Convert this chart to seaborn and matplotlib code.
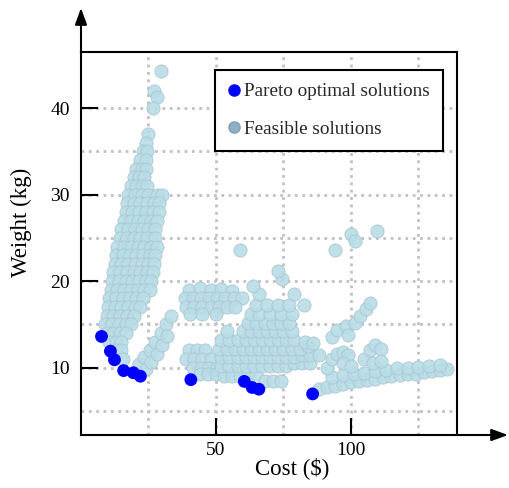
import pandas as pd
import numpy as np
import matplotlib
matplotlib.use('Agg')
import matplotlib.pyplot as plt
import seaborn as sns
from matplotlib.lines import Line2D
from matplotlib.ticker import FixedLocator

#####################################################################
# Data (cost in $, weight in kg)
pareto_cost = [7.6, 10.9, 12.4, 15.8, 19.4, 22.0, 40.7, 60.5, 63.4, 65.9, 85.8]
pareto_weight = [13.6, 11.9, 10.9, 9.65, 9.4, 9.0, 8.6, 8.4, 7.7, 7.5, 6.95]

left_band = [
    (29.5, 44.3), (27.2, 42.0), (28.3, 41.3), (26.5, 40.0), (24.8, 37.0), (24.0, 36.0),
    (23.0, 35.0), (24.5, 35.0), (22.0, 34.0), (24.0, 34.0),
    (20.5, 33.0), (22.5, 33.0), (24.0, 33.0), (19.5, 32.0), (21.5, 32.0), (23.5, 32.0),
    (18.5, 31.0), (20.5, 31.0), (22.5, 31.0), (24.5, 31.0),
    (17.5, 30.0), (20.0, 30.0), (22.5, 30.0), (25.0, 30.0), (28.0, 30.0), (30.0, 30.0),
    (17.0, 29.0), (19.5, 29.0), (22.0, 29.0), (24.5, 29.0), (27.0, 29.0), (29.0, 29.0),
    (16.5, 28.0), (19.0, 28.0), (21.5, 28.0), (24.0, 28.0), (26.5, 28.0), (29.0, 28.0),
    (16.0, 27.0), (18.5, 27.0), (21.0, 27.0), (23.5, 27.0), (26.0, 27.0), (28.0, 27.0),
    (15.0, 26.0), (17.5, 26.0), (20.0, 26.0), (22.5, 26.0), (25.0, 26.0), (27.5, 26.0),
    (14.5, 25.0), (17.0, 25.0), (19.5, 25.0), (22.0, 25.0), (24.5, 25.0), (27.5, 25.0),
    (13.5, 24.0), (16.0, 24.0), (18.5, 24.0), (21.0, 24.0), (23.5, 24.0), (26.0, 24.0), (28.0, 24.0),
    (13.0, 23.0), (15.5, 23.0), (18.0, 23.0), (20.5, 23.0), (23.0, 23.0), (25.5, 23.0), (27.5, 23.0),
    (12.5, 22.0), (15.0, 22.0), (17.5, 22.0), (20.0, 22.0), (22.5, 22.0), (25.0, 22.0), (27.0, 22.0),
    (12.0, 21.0), (14.5, 21.0), (17.0, 21.0), (19.5, 21.0), (22.0, 21.0), (24.5, 21.0), (26.5, 21.0),
    (11.5, 20.0), (14.0, 20.0), (16.5, 20.0), (19.0, 20.0), (21.5, 20.0), (24.0, 20.0), (26.0, 20.0),
    (11.0, 19.0), (13.5, 19.0), (16.0, 19.0), (18.5, 19.0), (21.0, 19.0), (23.5, 19.0), (25.5, 19.0),
    (10.5, 18.0), (13.0, 18.0), (15.5, 18.0), (18.0, 18.0), (20.5, 18.0), (23.0, 18.0),
    (10.0, 17.0), (12.5, 17.0), (15.0, 17.0), (17.5, 17.0), (20.0, 17.0), (22.0, 17.0),
    (9.5, 16.0), (12.0, 16.0), (14.5, 16.0), (17.0, 16.0), (19.5, 16.0),
    (9.0, 15.0), (11.5, 15.0), (14.0, 15.0), (16.5, 15.0), (18.5, 15.0),
    (9.5, 14.0), (12.0, 14.0), (14.5, 14.0), (16.5, 14.0),
    (10.5, 13.0), (13.0, 13.0), (15.0, 13.0), (13.0, 12.0), (15.0, 12.0), (15.5, 11.0),
]

arm = [
    (21.5, 10.4), (23.5, 11.2), (25.5, 12.0), (27.5, 13.0), (29.5, 14.0), (31.5, 15.0), (33.5, 16.0),
    (24.0, 9.8), (26.0, 10.6), (28.0, 11.6), (30.0, 12.6), (32.0, 13.7),
]

middle = [
    (40.0, 19.0), (44.0, 19.2), (48.0, 19.0), (52.0, 19.1), (56.0, 18.9),
    (38.5, 18.0), (41.5, 18.0), (44.5, 18.0), (47.5, 18.0), (50.5, 18.0), (53.5, 18.0), (56.5, 18.0), (59.5, 18.0),
    (39.0, 17.0), (42.0, 17.0), (45.0, 17.0), (48.0, 17.0), (51.0, 17.0), (54.0, 17.0), (57.0, 17.0),
    (40.5, 16.2), (45.0, 16.2), (50.0, 16.2),
    (40.0, 12.0), (43.0, 12.0), (46.0, 12.0),
    (39.0, 11.0), (42.0, 11.0), (45.0, 11.0), (48.0, 11.0),
    (41.5, 10.0), (44.5, 10.0), (47.5, 10.0), (50.5, 10.0),
    (44.0, 9.2), (47.0, 9.2), (50.0, 9.2),
    (53.0, 9.0), (56.0, 9.0), (59.0, 9.0), (62.0, 9.3), (65.0, 9.3), (68.0, 8.5), (71.0, 8.5), (74.0, 8.5),
    (52.0, 10.2), (55.0, 10.2), (58.0, 10.2), (61.0, 10.2), (64.0, 10.2), (67.0, 10.2), (70.0, 10.2),
    (73.0, 10.2), (76.0, 10.2), (79.0, 10.5), (82.0, 10.5), (85.0, 10.5),
    (52.0, 11.2), (55.0, 11.2), (58.0, 11.2), (61.0, 11.2), (64.0, 11.2), (67.0, 11.2), (70.0, 11.2),
    (73.0, 11.2), (76.0, 11.2), (79.0, 11.2), (82.0, 11.5), (85.0, 11.5), (88.0, 11.5),
    (51.0, 12.2), (54.0, 12.2), (57.0, 12.2), (60.0, 12.2), (63.0, 12.2), (66.0, 12.2), (69.0, 12.2),
    (72.0, 12.2), (75.0, 12.2), (78.0, 12.2), (81.0, 12.2), (84.0, 12.5),
    (52.0, 13.2), (55.0, 13.2), (58.0, 13.2), (61.0, 13.2), (64.0, 13.2), (67.0, 13.2), (70.0, 13.2),
    (73.0, 13.2), (76.0, 13.2), (79.0, 13.2), (83.0, 13.0), (86.0, 12.8),
    (54.0, 14.2), (60.0, 14.2), (63.0, 14.2), (66.0, 14.2), (69.0, 14.2), (72.0, 14.2), (75.0, 14.2), (78.0, 14.2),
    (62.0, 15.2), (65.0, 15.2), (68.0, 15.2), (71.0, 15.2), (74.0, 15.2), (77.0, 15.2),
    (63.0, 16.2), (66.0, 16.2), (70.0, 16.2), (74.0, 16.2), (78.0, 16.2),
    (65.0, 17.2), (69.0, 17.2), (73.0, 17.2), (77.0, 17.2), (82.5, 17.2),
    (66.0, 18.5), (79.0, 18.5), (63.8, 19.4), (74.3, 20.2), (73.0, 21.2), (59.0, 23.6),
]

right = [
    (88.0, 7.5), (91.0, 7.7), (94.0, 7.9), (97.0, 8.1), (100.0, 8.3), (103.0, 8.5), (106.0, 8.6),
    (109.0, 8.7), (112.0, 8.9), (115.0, 9.0), (118.0, 9.1), (121.0, 9.2), (124.0, 9.3), (127.0, 9.5),
    (130.0, 9.6), (133.0, 9.7), (135.5, 9.8),
    (93.0, 8.9), (97.0, 9.1), (101.0, 9.3), (105.0, 9.4), (109.0, 9.6), (113.0, 9.7), (117.0, 9.9),
    (121.0, 10.0), (125.0, 10.1), (129.0, 10.2), (133.0, 10.3),
    (91.0, 10.0), (93.0, 11.0), (95.0, 11.6), (97.0, 11.8), (99.0, 11.4), (97.0, 10.5), (100.0, 10.2),
    (105.0, 11.0), (107.0, 12.0), (109.0, 12.6), (111.0, 12.2), (108.0, 10.5), (111.0, 10.8),
    (93.0, 13.5), (95.0, 14.3), (98.0, 14.8), (99.0, 13.8),
    (101.5, 15.2), (103.5, 16.0), (105.5, 16.8), (107.0, 17.5),
    (94.0, 23.6), (100.2, 25.4), (101.5, 24.6), (109.5, 25.8),
]

legend_labels = ['Pareto optimal solutions', 'Feasible solutions']

#####################################################################
feasible = pd.DataFrame(left_band + arm + middle + right, columns=['Cost', 'Weight'])
pareto = pd.DataFrame({'Cost': pareto_cost, 'Weight': pareto_weight})

sns.set_theme(style="white")
plt.rcParams['font.family'] = ['Liberation Serif', 'DejaVu Serif']

W, H = 510, 488
fig = plt.figure(figsize=(W / 100, H / 100), dpi=100)
ax = fig.add_axes([81 / W, 1 - 435 / H, 376 / W, 383 / H])

sns.scatterplot(data=feasible, x='Cost', y='Weight', ax=ax, s=90, color='#b8dde6',
                edgecolor='#a9c3cf', linewidth=0.6, alpha=0.9, zorder=2, legend=False)
sns.scatterplot(data=pareto, x='Cost', y='Weight', ax=ax, s=85, color='#0000ff',
                edgecolor='none', zorder=3, legend=False)

ax.set_xlim(0, 139.3)
ax.set_ylim(2.2, 46.5)
ax.xaxis.set_major_locator(FixedLocator([50, 100]))
ax.xaxis.set_minor_locator(FixedLocator([25, 75, 125]))
ax.yaxis.set_major_locator(FixedLocator([10, 20, 30, 40]))
ax.yaxis.set_minor_locator(FixedLocator([5, 15, 25, 35]))
ax.grid(True, which='both', linestyle=':', linewidth=2, color='#c2bfc6')
ax.set_axisbelow(True)
ax.tick_params(which='major', direction='in', length=12, width=1.5, labelsize=14,
               colors='black', bottom=True, left=True)
ax.tick_params(axis='y', which='major', pad=8)
ax.tick_params(axis='x', which='major', pad=5)
ax.tick_params(which='minor', length=0)
for sp in ax.spines.values():
    sp.set_visible(True)
    sp.set_color('black')
    sp.set_linewidth(1.5)

ax.set_xlabel('Cost (\\$)', fontsize=16.5, color='black')
ax.set_ylabel('Weight (kg)', fontsize=16.5, color='black')
ax.xaxis.set_label_coords(0.561, -0.058)
ax.yaxis.set_label_coords(-0.130, 0.554)

# axis arrows
arrow = dict(arrowstyle='-|>,head_length=0.55,head_width=0.2', color='black', lw=1.5,
             mutation_scale=18, shrinkA=0, shrinkB=0)
ax.annotate('', xy=(508 / W, 1 - 435 / H), xycoords='figure fraction',
            xytext=(457 / W, 1 - 435 / H), textcoords='figure fraction', arrowprops=arrow)
ax.annotate('', xy=(81 / W, 1 - 8 / H), xycoords='figure fraction',
            xytext=(81 / W, 1 - 52 / H), textcoords='figure fraction', arrowprops=arrow)

handles = [
    Line2D([0], [0], marker='o', ls='', markersize=8, markerfacecolor='#0000ff', markeredgecolor='#0000ff'),
    Line2D([0], [0], marker='o', ls='', markersize=8, markerfacecolor='#8fb0c4', markeredgecolor='#7d9db3'),
]
leg = ax.legend(handles, legend_labels, loc='upper left', bbox_to_anchor=(0.356, 0.954),
                frameon=True, fancybox=False, edgecolor='black', framealpha=1, fontsize=13.8,
                handlelength=0.6, handletextpad=0.2, borderpad=0.7, labelspacing=1.05,
                borderaxespad=0)
leg.get_frame().set_linewidth(1.5)

fig.savefig('out.png', dpi=100)
